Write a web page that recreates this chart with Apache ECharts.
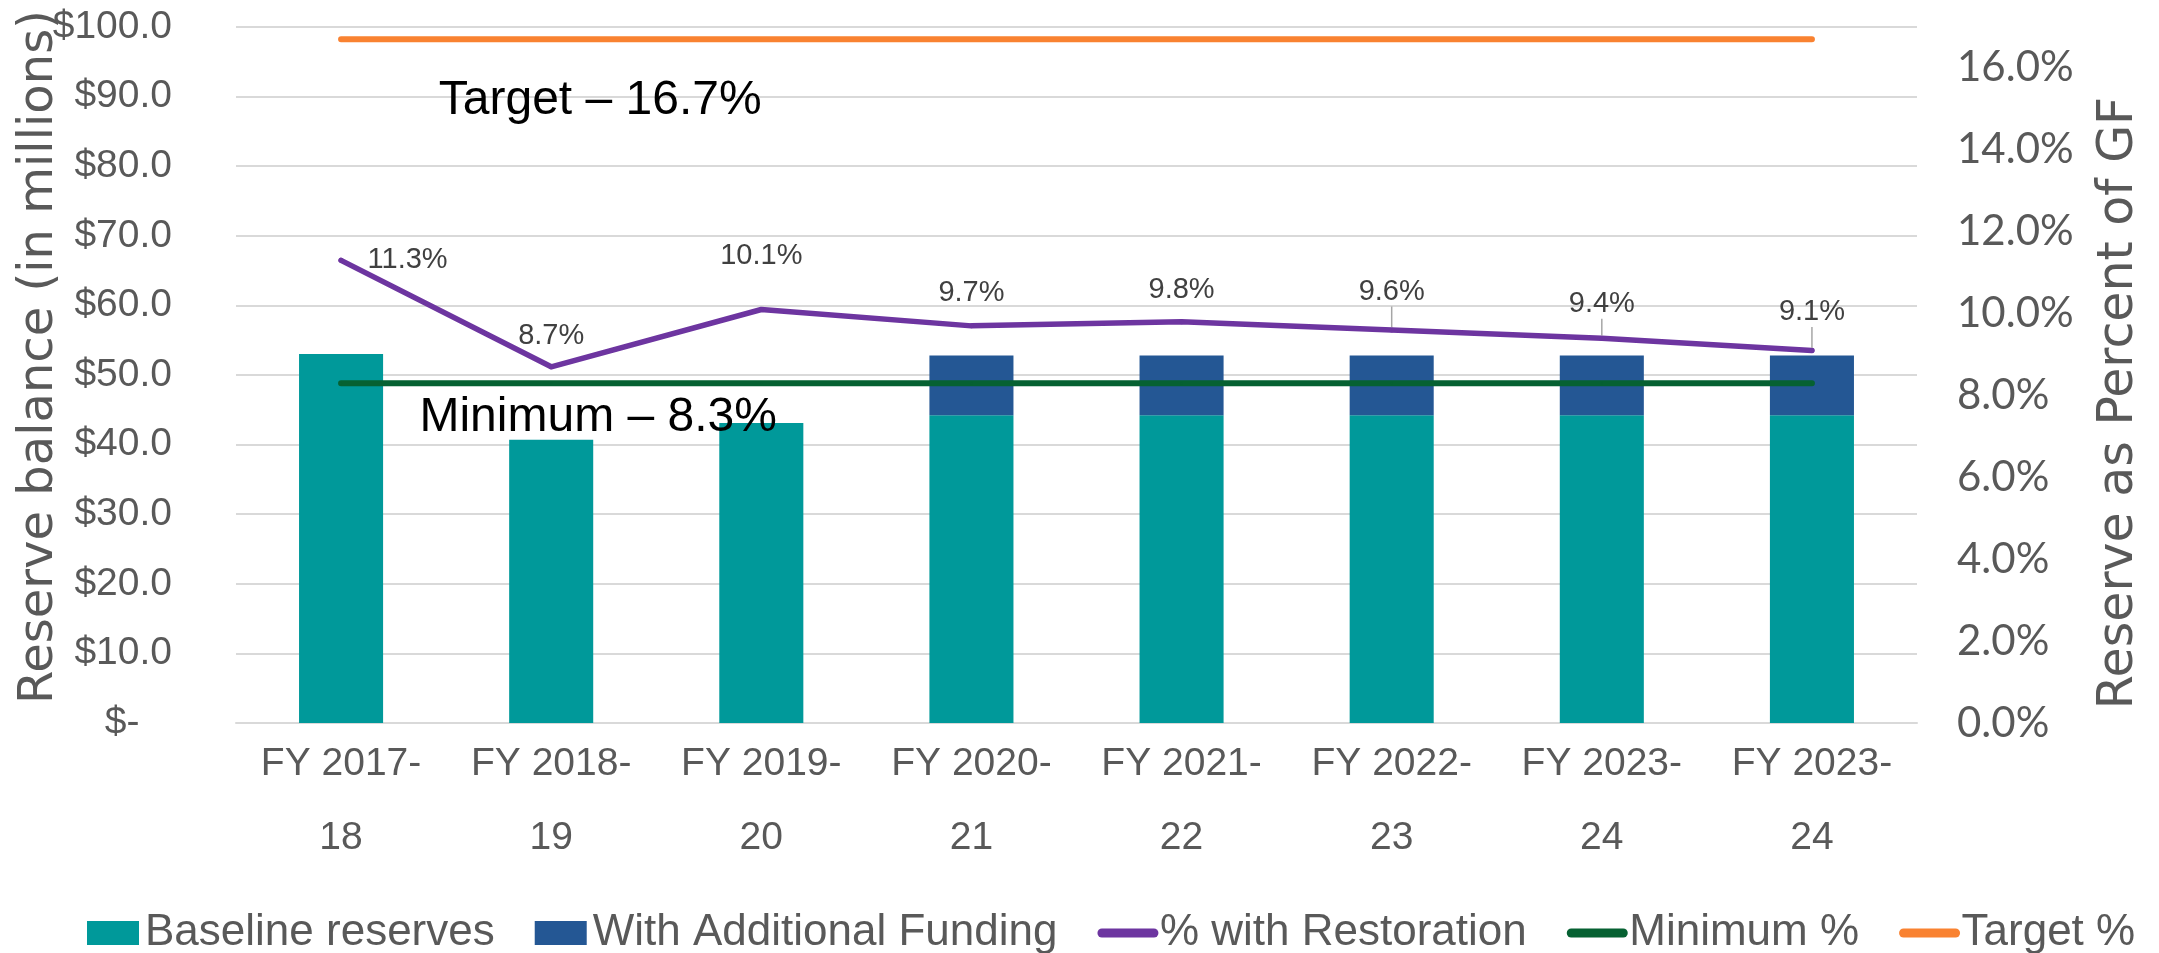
<!DOCTYPE html>
<html>
<head>
<meta charset="utf-8">
<script src="https://cdn.jsdelivr.net/npm/echarts@6/dist/echarts.min.js"></script>
<style>
html,body{margin:0;padding:0;background:#ffffff;}
#chart{width:2159px;height:953px;}
</style>
</head>
<body>
<div id="chart"></div>
<script>
// ---- Data ----
const categories = ['FY 2017-\n18', 'FY 2018-\n19', 'FY 2019-\n20', 'FY 2020-\n21', 'FY 2021-\n22', 'FY 2022-\n23', 'FY 2023-\n24', 'FY 2023-\n24'];
const baselineReserves = [53.0, 40.7, 43.1, 44.2, 44.2, 44.2, 44.2, 44.2];
const additionalFunding = [null, null, null, 8.6, 8.6, 8.6, 8.6, 8.6];
const pctWithRestoration = [11.3, 8.7, 10.1, 9.7, 9.8, 9.6, 9.4, 9.1];
const minimumPct = [8.3, 8.3, 8.3, 8.3, 8.3, 8.3, 8.3, 8.3];
const targetPct = [16.7, 16.7, 16.7, 16.7, 16.7, 16.7, 16.7, 16.7];
const leftAxisTicks = { min: 0, max: 100, interval: 10 };
const rightAxisTicks = { min: 0, max: 17, interval: 2, lastLabel: 16 };
const targetText = 'Target \u2013 16.7%';
const minimumText = 'Minimum \u2013 8.3%';

// ---- Styles ----
const NARROW = "'Liberation Sans', Arial, sans-serif";
const WIDE = "'DejaVu Sans', sans-serif";
const AXISFONT = "Lato, 'DejaVu Sans', sans-serif";
const GRAY = '#595959';
const C_TEAL = '#00999A';
const C_BLUE = '#245794';
const C_PURPLE = '#6D35A0';
const C_GREEN = '#066132';
const C_ORANGE = '#F98231';

// per-point label placement for % line (style only)
const pctLabelPlacement = [
  { position: 'right', distance: 24 },
  { position: 'top', distance: 14 },
  { position: 'top', distance: 36 },
  { position: 'top', distance: 16 },
  { position: 'top', distance: 15 },
  { position: 'top', distance: 5, dy: -16, leader: true },
  { position: 'top', distance: 5, dy: -12, leader: true },
  { position: 'top', distance: 5, dy: -16, leader: true }
];

const pctData = pctWithRestoration.map((v, i) => {
  const p = pctLabelPlacement[i];
  const item = { value: v, label: { position: p.position, distance: p.distance } };
  if (p.leader) item.labelLine = { show: true, lineStyle: { color: '#A6A6A6', width: 1.5 } };
  return item;
});

const annotIndex = 1;
const targetData = targetPct.map((v, i) => i === annotIndex ? {
  value: v,
  label: { show: true, position: 'bottom', distance: 36, offset: [49, 0], formatter: targetText,
           fontFamily: NARROW, fontSize: 48, color: '#000000' }
} : v);
const minimumData = minimumPct.map((v, i) => i === annotIndex ? {
  value: v,
  label: { show: true, position: 'bottom', distance: 10, offset: [47, 0], formatter: minimumText,
           fontFamily: NARROW, fontSize: 48, color: '#000000' }
} : v);

const chart = echarts.init(document.getElementById('chart'), null, { renderer: 'canvas' });

const legendLine = { width: 9, cap: 'round' };

const option = {
  backgroundColor: '#ffffff',
  animation: false,
  grid: { left: 236, right: 242, top: 27, bottom: 230, containLabel: false, outerBoundsMode: 'none' },
  legend: {
    show: true,
    left: 82,
    top: 906,
    itemWidth: 52,
    itemHeight: 24,
    itemGap: 40,
    textStyle: { fontFamily: NARROW, fontSize: 44, color: GRAY, padding: [0, 0, 0, 1] },
    data: [
      { name: 'Baseline reserves', icon: 'rect' },
      { name: 'With Additional Funding', icon: 'rect' },
      { name: '% with Restoration', itemStyle: { opacity: 0 }, lineStyle: legendLine },
      { name: 'Minimum %', itemStyle: { opacity: 0 }, lineStyle: legendLine },
      { name: 'Target %', itemStyle: { opacity: 0 }, lineStyle: legendLine }
    ]
  },
  xAxis: {
    type: 'category',
    data: categories,
    boundaryGap: true,
    axisLine: { show: true, lineStyle: { color: '#D9D9D9', width: 2 } },
    axisTick: { show: false },
    axisLabel: { interval: 0, margin: 4, fontFamily: NARROW, fontSize: 39, lineHeight: 74, color: GRAY }
  },
  yAxis: [
    {
      type: 'value',
      min: leftAxisTicks.min, max: leftAxisTicks.max, interval: leftAxisTicks.interval,
      name: 'Reserve balance (in millions)',
      nameLocation: 'middle',
      nameGap: 172,
      nameMoveOverlap: false,
      nameTextStyle: { fontFamily: WIDE, fontSize: 48, color: GRAY, padding: [0, 0, 0, 36] },
      axisLine: { show: false },
      axisTick: { show: false },
      splitLine: { show: true, lineStyle: { color: '#D9D9D9', width: 2 } },
      axisLabel: {
        margin: 64, fontFamily: NARROW, fontSize: 39, color: GRAY,
        formatter: v => v === 0 ? '$-   ' : '$' + v.toFixed(1)
      }
    },
    {
      type: 'value',
      min: rightAxisTicks.min, max: rightAxisTicks.max, interval: rightAxisTicks.interval,
      name: 'Reserve as Percent of GF',
      nameLocation: 'middle',
      nameGap: 178,
      nameMoveOverlap: false,
      nameTextStyle: { fontFamily: WIDE, fontSize: 49, color: GRAY, padding: [0, 56, 0, 0] },
      axisLine: { show: false },
      axisTick: { show: false },
      splitLine: { show: false },
      axisLabel: {
        margin: 40, align: 'left', fontFamily: AXISFONT, fontSize: 42, color: GRAY,
        formatter: v => v > rightAxisTicks.lastLabel ? '' : v.toFixed(1) + '%'
      }
    }
  ],
  series: [
    {
      name: 'Baseline reserves', type: 'bar', stack: 'res', yAxisIndex: 0,
      barWidth: '40%', data: baselineReserves,
      itemStyle: { color: C_TEAL }, z: 2
    },
    {
      name: 'With Additional Funding', type: 'bar', stack: 'res', yAxisIndex: 0,
      barWidth: '40%', data: additionalFunding,
      itemStyle: { color: C_BLUE }, z: 2
    },
    {
      name: '% with Restoration', type: 'line', yAxisIndex: 1, data: pctData,
      symbol: 'circle', symbolSize: 5, showSymbol: true,
      itemStyle: { color: C_PURPLE },
      lineStyle: { color: C_PURPLE, width: 5.5, cap: 'round', join: 'round' },
      label: {
        show: true, fontFamily: NARROW, fontSize: 29, color: '#404040',
        formatter: p => p.value.toFixed(1) + '%'
      },
      labelLayout: params => {
        const p = pctLabelPlacement[params.dataIndex];
        return p && p.dy ? { dy: p.dy } : {};
      },
      z: 4
    },
    {
      name: 'Minimum %', type: 'line', yAxisIndex: 1, data: minimumData,
      symbol: 'circle', symbolSize: 2, showSymbol: true,
      itemStyle: { color: C_GREEN },
      lineStyle: { color: C_GREEN, width: 6, cap: 'round' },
      label: { show: false },
      z: 3
    },
    {
      name: 'Target %', type: 'line', yAxisIndex: 1, data: targetData,
      symbol: 'circle', symbolSize: 2, showSymbol: true,
      itemStyle: { color: C_ORANGE },
      lineStyle: { color: C_ORANGE, width: 6, cap: 'round' },
      label: { show: false },
      z: 3
    }
  ]
};
chart.setOption(option);
</script>
</body>
</html>
